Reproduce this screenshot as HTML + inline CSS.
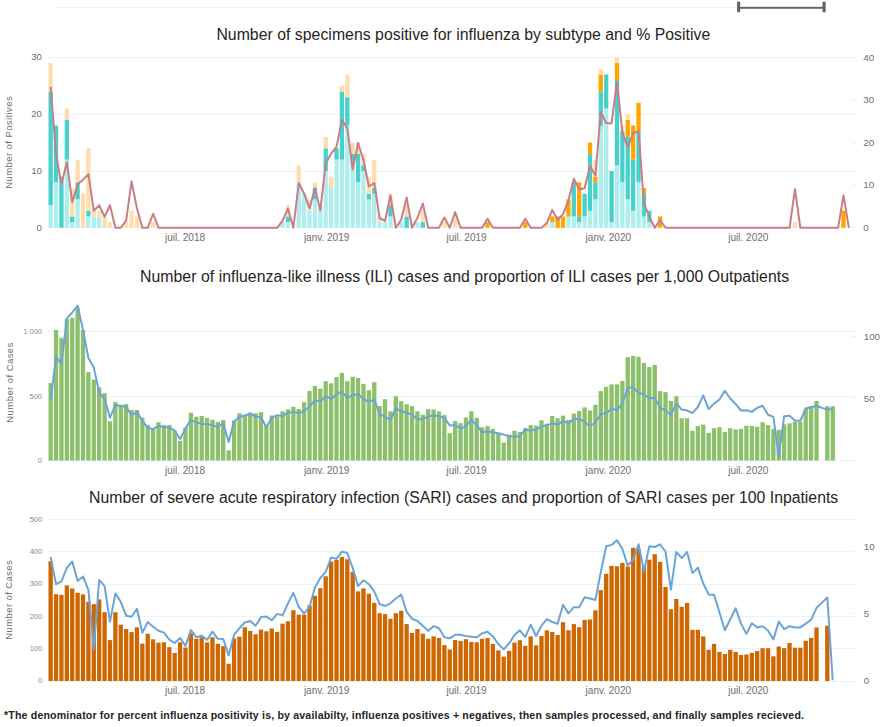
<!DOCTYPE html>
<html><head><meta charset="utf-8">
<style>
html,body{margin:0;padding:0;background:#fff;width:881px;height:727px;overflow:hidden}
svg{display:block;font-family:"Liberation Sans",sans-serif}
</style></head>
<body>
<svg width="881" height="727" viewBox="0 0 881 727">
<rect width="881" height="727" fill="#fff"/>
<rect x="48" y="57" width="808.5" height="1" fill="#F1F1F1"/>
<rect x="48" y="114" width="808.5" height="1" fill="#F1F1F1"/>
<rect x="48" y="171" width="808.5" height="1" fill="#F1F1F1"/>
<rect x="48" y="227" width="808.5" height="1" fill="#F1F1F1"/>
<rect x="852" y="99" width="4.5" height="1" fill="#F1F1F1"/>
<rect x="852" y="142" width="4.5" height="1" fill="#F1F1F1"/>
<rect x="852" y="185" width="4.5" height="1" fill="#F1F1F1"/>
<rect x="48.5" y="205.08" width="4.3" height="22.72" fill="#AFEEEE"/>
<rect x="48.5" y="91.48" width="4.3" height="113.6" fill="#48D1CC"/>
<rect x="48.5" y="63.08" width="4.3" height="28.4" fill="#FFDEAD"/>
<rect x="53.89" y="182.36" width="4.3" height="45.44" fill="#AFEEEE"/>
<rect x="53.89" y="125.56" width="4.3" height="56.8" fill="#48D1CC"/>
<rect x="59.29" y="176.68" width="4.3" height="51.12" fill="#48D1CC"/>
<rect x="64.68" y="159.64" width="4.3" height="68.16" fill="#AFEEEE"/>
<rect x="64.68" y="119.88" width="4.3" height="39.76" fill="#48D1CC"/>
<rect x="64.68" y="108.52" width="4.3" height="11.36" fill="#FFDEAD"/>
<rect x="70.07" y="222.12" width="4.3" height="5.68" fill="#AFEEEE"/>
<rect x="70.07" y="216.44" width="4.3" height="5.68" fill="#48D1CC"/>
<rect x="70.07" y="188.04" width="4.3" height="28.4" fill="#FFDEAD"/>
<rect x="75.47" y="199.4" width="4.3" height="28.4" fill="#AFEEEE"/>
<rect x="75.47" y="182.36" width="4.3" height="17.04" fill="#48D1CC"/>
<rect x="75.47" y="159.64" width="4.3" height="22.72" fill="#FFDEAD"/>
<rect x="80.86" y="193.72" width="4.3" height="34.08" fill="#FFDEAD"/>
<rect x="86.25" y="216.44" width="4.3" height="11.36" fill="#AFEEEE"/>
<rect x="86.25" y="210.76" width="4.3" height="5.68" fill="#48D1CC"/>
<rect x="86.25" y="148.28" width="4.3" height="62.48" fill="#FFDEAD"/>
<rect x="91.65" y="216.44" width="4.3" height="11.36" fill="#AFEEEE"/>
<rect x="91.65" y="210.76" width="4.3" height="5.68" fill="#FFDEAD"/>
<rect x="97.04" y="216.44" width="4.3" height="11.36" fill="#AFEEEE"/>
<rect x="97.04" y="210.76" width="4.3" height="5.68" fill="#FFDEAD"/>
<rect x="102.44" y="216.44" width="4.3" height="11.36" fill="#FFDEAD"/>
<rect x="107.83" y="222.12" width="4.3" height="5.68" fill="#FFDEAD"/>
<rect x="124.01" y="222.12" width="4.3" height="5.68" fill="#FFDEAD"/>
<rect x="129.4" y="210.76" width="4.3" height="17.04" fill="#FFDEAD"/>
<rect x="134.8" y="216.44" width="4.3" height="11.36" fill="#FFDEAD"/>
<rect x="150.98" y="222.12" width="4.3" height="5.68" fill="#FFDEAD"/>
<rect x="280.42" y="222.12" width="4.3" height="5.68" fill="#AFEEEE"/>
<rect x="285.81" y="222.12" width="4.3" height="5.68" fill="#AFEEEE"/>
<rect x="285.81" y="216.44" width="4.3" height="5.68" fill="#48D1CC"/>
<rect x="285.81" y="205.08" width="4.3" height="11.36" fill="#FFDEAD"/>
<rect x="296.6" y="182.36" width="4.3" height="45.44" fill="#AFEEEE"/>
<rect x="296.6" y="165.32" width="4.3" height="17.04" fill="#FFDEAD"/>
<rect x="301.99" y="193.72" width="4.3" height="34.08" fill="#AFEEEE"/>
<rect x="307.39" y="210.76" width="4.3" height="17.04" fill="#AFEEEE"/>
<rect x="307.39" y="199.4" width="4.3" height="11.36" fill="#FFDEAD"/>
<rect x="312.78" y="199.4" width="4.3" height="28.4" fill="#AFEEEE"/>
<rect x="312.78" y="188.04" width="4.3" height="11.36" fill="#48D1CC"/>
<rect x="312.78" y="182.36" width="4.3" height="5.68" fill="#FFDEAD"/>
<rect x="318.18" y="205.08" width="4.3" height="22.72" fill="#AFEEEE"/>
<rect x="323.57" y="171" width="4.3" height="56.8" fill="#AFEEEE"/>
<rect x="323.57" y="148.28" width="4.3" height="22.72" fill="#48D1CC"/>
<rect x="323.57" y="136.92" width="4.3" height="11.36" fill="#FFDEAD"/>
<rect x="328.96" y="188.04" width="4.3" height="39.76" fill="#AFEEEE"/>
<rect x="328.96" y="176.68" width="4.3" height="11.36" fill="#FFDEAD"/>
<rect x="334.36" y="159.64" width="4.3" height="68.16" fill="#AFEEEE"/>
<rect x="334.36" y="148.28" width="4.3" height="11.36" fill="#48D1CC"/>
<rect x="339.75" y="159.64" width="4.3" height="68.16" fill="#AFEEEE"/>
<rect x="339.75" y="91.48" width="4.3" height="68.16" fill="#48D1CC"/>
<rect x="339.75" y="85.8" width="4.3" height="5.68" fill="#FFDEAD"/>
<rect x="345.14" y="125.56" width="4.3" height="102.24" fill="#AFEEEE"/>
<rect x="345.14" y="97.16" width="4.3" height="28.4" fill="#48D1CC"/>
<rect x="345.14" y="74.44" width="4.3" height="22.72" fill="#FFDEAD"/>
<rect x="350.54" y="165.32" width="4.3" height="62.48" fill="#AFEEEE"/>
<rect x="350.54" y="153.96" width="4.3" height="11.36" fill="#48D1CC"/>
<rect x="350.54" y="142.6" width="4.3" height="11.36" fill="#FFDEAD"/>
<rect x="355.93" y="182.36" width="4.3" height="45.44" fill="#AFEEEE"/>
<rect x="355.93" y="153.96" width="4.3" height="28.4" fill="#48D1CC"/>
<rect x="355.93" y="142.6" width="4.3" height="11.36" fill="#FFDEAD"/>
<rect x="361.32" y="171" width="4.3" height="56.8" fill="#AFEEEE"/>
<rect x="361.32" y="165.32" width="4.3" height="5.68" fill="#48D1CC"/>
<rect x="361.32" y="153.96" width="4.3" height="11.36" fill="#FFDEAD"/>
<rect x="366.72" y="199.4" width="4.3" height="28.4" fill="#AFEEEE"/>
<rect x="366.72" y="193.72" width="4.3" height="5.68" fill="#48D1CC"/>
<rect x="366.72" y="176.68" width="4.3" height="17.04" fill="#FFDEAD"/>
<rect x="372.11" y="193.72" width="4.3" height="34.08" fill="#AFEEEE"/>
<rect x="372.11" y="188.04" width="4.3" height="5.68" fill="#48D1CC"/>
<rect x="372.11" y="159.64" width="4.3" height="28.4" fill="#FFDEAD"/>
<rect x="377.5" y="222.12" width="4.3" height="5.68" fill="#AFEEEE"/>
<rect x="377.5" y="216.44" width="4.3" height="5.68" fill="#FFDEAD"/>
<rect x="382.9" y="222.12" width="4.3" height="5.68" fill="#AFEEEE"/>
<rect x="388.29" y="216.44" width="4.3" height="11.36" fill="#AFEEEE"/>
<rect x="388.29" y="205.08" width="4.3" height="11.36" fill="#48D1CC"/>
<rect x="388.29" y="193.72" width="4.3" height="11.36" fill="#FFDEAD"/>
<rect x="399.08" y="222.12" width="4.3" height="5.68" fill="#AFEEEE"/>
<rect x="404.47" y="216.44" width="4.3" height="11.36" fill="#48D1CC"/>
<rect x="404.47" y="205.08" width="4.3" height="11.36" fill="#FFDEAD"/>
<rect x="415.26" y="222.12" width="4.3" height="5.68" fill="#AFEEEE"/>
<rect x="420.65" y="222.12" width="4.3" height="5.68" fill="#48D1CC"/>
<rect x="420.65" y="210.76" width="4.3" height="11.36" fill="#FFDEAD"/>
<rect x="442.23" y="222.12" width="4.3" height="5.68" fill="#FFDEAD"/>
<rect x="453.01" y="216.44" width="4.3" height="11.36" fill="#FFDEAD"/>
<rect x="485.37" y="222.12" width="4.3" height="5.68" fill="#FFA500"/>
<rect x="523.13" y="222.12" width="4.3" height="5.68" fill="#FFA500"/>
<rect x="544.7" y="222.12" width="4.3" height="5.68" fill="#FFDEAD"/>
<rect x="550.1" y="222.12" width="4.3" height="5.68" fill="#AFEEEE"/>
<rect x="550.1" y="216.44" width="4.3" height="5.68" fill="#FFA500"/>
<rect x="555.49" y="216.44" width="4.3" height="11.36" fill="#FFA500"/>
<rect x="560.88" y="216.44" width="4.3" height="11.36" fill="#FFA500"/>
<rect x="566.28" y="216.44" width="4.3" height="11.36" fill="#AFEEEE"/>
<rect x="566.28" y="199.4" width="4.3" height="17.04" fill="#FFA500"/>
<rect x="571.67" y="216.44" width="4.3" height="11.36" fill="#AFEEEE"/>
<rect x="571.67" y="182.36" width="4.3" height="34.08" fill="#48D1CC"/>
<rect x="577.06" y="222.12" width="4.3" height="5.68" fill="#AFEEEE"/>
<rect x="577.06" y="216.44" width="4.3" height="5.68" fill="#48D1CC"/>
<rect x="577.06" y="182.36" width="4.3" height="34.08" fill="#FFA500"/>
<rect x="582.46" y="216.44" width="4.3" height="11.36" fill="#AFEEEE"/>
<rect x="582.46" y="193.72" width="4.3" height="22.72" fill="#48D1CC"/>
<rect x="587.85" y="210.76" width="4.3" height="17.04" fill="#AFEEEE"/>
<rect x="587.85" y="153.96" width="4.3" height="56.8" fill="#48D1CC"/>
<rect x="587.85" y="142.6" width="4.3" height="11.36" fill="#FFA500"/>
<rect x="593.24" y="199.4" width="4.3" height="28.4" fill="#AFEEEE"/>
<rect x="593.24" y="182.36" width="4.3" height="17.04" fill="#48D1CC"/>
<rect x="593.24" y="176.68" width="4.3" height="5.68" fill="#FFA500"/>
<rect x="593.24" y="159.64" width="4.3" height="17.04" fill="#FFDEAD"/>
<rect x="598.64" y="125.56" width="4.3" height="102.24" fill="#AFEEEE"/>
<rect x="598.64" y="91.48" width="4.3" height="34.08" fill="#48D1CC"/>
<rect x="598.64" y="74.44" width="4.3" height="17.04" fill="#FFA500"/>
<rect x="598.64" y="68.76" width="4.3" height="5.68" fill="#FFDEAD"/>
<rect x="604.03" y="108.52" width="4.3" height="119.28" fill="#AFEEEE"/>
<rect x="604.03" y="74.44" width="4.3" height="34.08" fill="#48D1CC"/>
<rect x="609.42" y="222.12" width="4.3" height="5.68" fill="#AFEEEE"/>
<rect x="609.42" y="171" width="4.3" height="51.12" fill="#48D1CC"/>
<rect x="614.82" y="165.32" width="4.3" height="62.48" fill="#AFEEEE"/>
<rect x="614.82" y="80.12" width="4.3" height="85.2" fill="#48D1CC"/>
<rect x="614.82" y="63.08" width="4.3" height="17.04" fill="#FFA500"/>
<rect x="614.82" y="57.4" width="4.3" height="5.68" fill="#FFDEAD"/>
<rect x="620.21" y="182.36" width="4.3" height="45.44" fill="#AFEEEE"/>
<rect x="620.21" y="131.24" width="4.3" height="51.12" fill="#48D1CC"/>
<rect x="620.21" y="125.56" width="4.3" height="5.68" fill="#FFDEAD"/>
<rect x="625.6" y="199.4" width="4.3" height="28.4" fill="#AFEEEE"/>
<rect x="625.6" y="136.92" width="4.3" height="62.48" fill="#48D1CC"/>
<rect x="625.6" y="119.88" width="4.3" height="17.04" fill="#FFA500"/>
<rect x="625.6" y="114.2" width="4.3" height="5.68" fill="#FFDEAD"/>
<rect x="631" y="210.76" width="4.3" height="17.04" fill="#AFEEEE"/>
<rect x="631" y="159.64" width="4.3" height="51.12" fill="#48D1CC"/>
<rect x="631" y="125.56" width="4.3" height="34.08" fill="#FFA500"/>
<rect x="636.39" y="182.36" width="4.3" height="45.44" fill="#AFEEEE"/>
<rect x="636.39" y="131.24" width="4.3" height="51.12" fill="#48D1CC"/>
<rect x="636.39" y="102.84" width="4.3" height="28.4" fill="#FFA500"/>
<rect x="641.79" y="216.44" width="4.3" height="11.36" fill="#AFEEEE"/>
<rect x="641.79" y="193.72" width="4.3" height="22.72" fill="#48D1CC"/>
<rect x="641.79" y="188.04" width="4.3" height="5.68" fill="#FFA500"/>
<rect x="647.18" y="222.12" width="4.3" height="5.68" fill="#AFEEEE"/>
<rect x="647.18" y="210.76" width="4.3" height="11.36" fill="#48D1CC"/>
<rect x="657.97" y="216.44" width="4.3" height="11.36" fill="#FFA500"/>
<rect x="792.8" y="222.12" width="4.3" height="5.68" fill="#FFDEAD"/>
<rect x="841.34" y="210.76" width="4.3" height="17.04" fill="#FFA500"/>
<polyline points="50.65,86.79 56.04,154.95 61.44,183.92 66.83,162.2 72.22,202.24 77.62,184.35 83.01,179.66 88.4,174.12 93.8,210.76 99.19,205.22 104.59,216.72 109.98,205.22 115.37,227.8 120.77,227.8 126.16,220.56 131.55,181.37 136.95,208.2 142.34,227.8 147.73,227.8 153.13,213.74 158.52,227.8 163.91,227.8 169.31,227.8 174.7,227.8 180.09,227.8 185.49,227.8 190.88,227.8 196.27,227.8 201.67,227.8 207.06,227.8 212.46,227.8 217.85,227.8 223.24,227.8 228.64,227.8 234.03,227.8 239.42,227.8 244.82,227.8 250.21,227.8 255.6,227.8 261,227.8 266.39,227.8 271.78,227.8 277.18,227.8 282.57,220.56 287.96,208.63 293.36,227.8 298.75,183.07 304.14,193.72 309.54,208.2 314.93,188.18 320.32,210.33 325.72,163.47 331.11,153.68 336.51,146.86 341.9,120.02 347.29,128.12 352.69,169.44 358.08,143.03 363.47,160.07 368.87,186.48 374.26,183.07 379.65,218 385.05,220.98 390.44,195.42 395.83,227.8 401.23,219.71 406.62,197.55 412.01,227.8 417.41,218 422.8,203.52 428.19,227.8 433.59,227.8 438.98,227.8 444.38,217.58 449.77,227.8 455.16,212.04 460.56,227.8 465.95,227.8 471.34,227.8 476.74,227.8 482.13,227.8 487.52,218.85 492.92,227.8 498.31,227.8 503.7,227.8 509.1,227.8 514.49,227.8 519.88,227.8 525.28,218.85 530.67,227.8 536.06,227.8 541.46,227.8 546.85,223.11 552.25,209.91 557.64,219.71 563.03,214.17 568.43,200.54 573.82,178.81 579.21,189.46 584.61,188.18 590,166.03 595.39,175.4 600.79,111.93 606.18,123 611.57,123.43 616.97,81.68 622.36,132.38 627.75,147.29 633.15,133.23 638.54,131.1 643.94,203.52 649.33,216.72 654.72,227.8 660.12,220.13 665.51,227.8 670.9,227.8 676.3,227.8 681.69,227.8 687.08,227.8 692.48,227.8 697.87,227.8 703.26,227.8 708.66,227.8 714.05,227.8 719.44,227.8 724.84,227.8 730.23,227.8 735.62,227.8 741.02,227.8 746.41,227.8 751.81,227.8 757.2,227.8 762.59,227.8 767.99,227.8 773.38,227.8 778.77,227.8 784.17,227.8 789.56,227.8 794.95,189.16 800.35,227.8 805.74,227.8 811.13,227.8 816.53,227.8 821.92,227.8 827.31,227.8 832.71,227.8 838.1,227.8 843.49,195.42 848.89,227.8" fill="none" stroke="#C97D86" stroke-width="2.0" stroke-linejoin="round"/>
<rect x="48" y="331" width="808.5" height="1" fill="#F1F1F1"/>
<rect x="48" y="396" width="808.5" height="1" fill="#F1F1F1"/>
<rect x="48" y="460" width="808.5" height="1" fill="#F1F1F1"/>
<rect x="852" y="336" width="4.5" height="1" fill="#F1F1F1"/>
<rect x="852" y="398" width="4.5" height="1" fill="#F1F1F1"/>
<rect x="48.5" y="383.1" width="4.3" height="77.5" fill="#8DC06A"/>
<rect x="53.89" y="330" width="4.3" height="130.6" fill="#8DC06A"/>
<rect x="59.29" y="337.8" width="4.3" height="122.8" fill="#8DC06A"/>
<rect x="64.68" y="319.1" width="4.3" height="141.5" fill="#8DC06A"/>
<rect x="70.07" y="317.9" width="4.3" height="142.7" fill="#8DC06A"/>
<rect x="75.47" y="307.9" width="4.3" height="152.7" fill="#8DC06A"/>
<rect x="80.86" y="330" width="4.3" height="130.6" fill="#8DC06A"/>
<rect x="86.25" y="372.1" width="4.3" height="88.5" fill="#8DC06A"/>
<rect x="91.65" y="379.6" width="4.3" height="81" fill="#8DC06A"/>
<rect x="97.04" y="387.3" width="4.3" height="73.3" fill="#8DC06A"/>
<rect x="102.44" y="393.1" width="4.3" height="67.5" fill="#8DC06A"/>
<rect x="107.83" y="421.2" width="4.3" height="39.4" fill="#8DC06A"/>
<rect x="113.22" y="402" width="4.3" height="58.6" fill="#8DC06A"/>
<rect x="118.62" y="404.8" width="4.3" height="55.8" fill="#8DC06A"/>
<rect x="124.01" y="404.1" width="4.3" height="56.5" fill="#8DC06A"/>
<rect x="129.4" y="410" width="4.3" height="50.6" fill="#8DC06A"/>
<rect x="134.8" y="410" width="4.3" height="50.6" fill="#8DC06A"/>
<rect x="140.19" y="417.7" width="4.3" height="42.9" fill="#8DC06A"/>
<rect x="145.58" y="424.9" width="4.3" height="35.7" fill="#8DC06A"/>
<rect x="150.98" y="429.2" width="4.3" height="31.4" fill="#8DC06A"/>
<rect x="156.37" y="422.3" width="4.3" height="38.3" fill="#8DC06A"/>
<rect x="161.76" y="424.9" width="4.3" height="35.7" fill="#8DC06A"/>
<rect x="167.16" y="424.9" width="4.3" height="35.7" fill="#8DC06A"/>
<rect x="172.55" y="430.7" width="4.3" height="29.9" fill="#8DC06A"/>
<rect x="177.94" y="440.8" width="4.3" height="19.8" fill="#8DC06A"/>
<rect x="183.34" y="427.6" width="4.3" height="33" fill="#8DC06A"/>
<rect x="188.73" y="412.8" width="4.3" height="47.8" fill="#8DC06A"/>
<rect x="194.12" y="416.7" width="4.3" height="43.9" fill="#8DC06A"/>
<rect x="199.52" y="416" width="4.3" height="44.6" fill="#8DC06A"/>
<rect x="204.91" y="418" width="4.3" height="42.6" fill="#8DC06A"/>
<rect x="210.31" y="419.8" width="4.3" height="40.8" fill="#8DC06A"/>
<rect x="215.7" y="421.9" width="4.3" height="38.7" fill="#8DC06A"/>
<rect x="221.09" y="420.1" width="4.3" height="40.5" fill="#8DC06A"/>
<rect x="226.49" y="450.3" width="4.3" height="10.3" fill="#8DC06A"/>
<rect x="231.88" y="420.4" width="4.3" height="40.2" fill="#8DC06A"/>
<rect x="237.27" y="413.3" width="4.3" height="47.3" fill="#8DC06A"/>
<rect x="242.67" y="414.8" width="4.3" height="45.8" fill="#8DC06A"/>
<rect x="248.06" y="412.5" width="4.3" height="48.1" fill="#8DC06A"/>
<rect x="253.45" y="413.3" width="4.3" height="47.3" fill="#8DC06A"/>
<rect x="258.85" y="412.2" width="4.3" height="48.4" fill="#8DC06A"/>
<rect x="264.24" y="426.1" width="4.3" height="34.5" fill="#8DC06A"/>
<rect x="269.63" y="415.5" width="4.3" height="45.1" fill="#8DC06A"/>
<rect x="275.03" y="416.3" width="4.3" height="44.3" fill="#8DC06A"/>
<rect x="280.42" y="411.3" width="4.3" height="49.3" fill="#8DC06A"/>
<rect x="285.81" y="409.2" width="4.3" height="51.4" fill="#8DC06A"/>
<rect x="291.21" y="406.9" width="4.3" height="53.7" fill="#8DC06A"/>
<rect x="296.6" y="409" width="4.3" height="51.6" fill="#8DC06A"/>
<rect x="301.99" y="402.2" width="4.3" height="58.4" fill="#8DC06A"/>
<rect x="307.39" y="391" width="4.3" height="69.6" fill="#8DC06A"/>
<rect x="312.78" y="386" width="4.3" height="74.6" fill="#8DC06A"/>
<rect x="318.18" y="388.6" width="4.3" height="72" fill="#8DC06A"/>
<rect x="323.57" y="381.2" width="4.3" height="79.4" fill="#8DC06A"/>
<rect x="328.96" y="383.3" width="4.3" height="77.3" fill="#8DC06A"/>
<rect x="334.36" y="377.1" width="4.3" height="83.5" fill="#8DC06A"/>
<rect x="339.75" y="372.9" width="4.3" height="87.7" fill="#8DC06A"/>
<rect x="345.14" y="381.2" width="4.3" height="79.4" fill="#8DC06A"/>
<rect x="350.54" y="376.9" width="4.3" height="83.7" fill="#8DC06A"/>
<rect x="355.93" y="378" width="4.3" height="82.6" fill="#8DC06A"/>
<rect x="361.32" y="383.8" width="4.3" height="76.8" fill="#8DC06A"/>
<rect x="366.72" y="390.1" width="4.3" height="70.5" fill="#8DC06A"/>
<rect x="372.11" y="382.2" width="4.3" height="78.4" fill="#8DC06A"/>
<rect x="377.5" y="406" width="4.3" height="54.6" fill="#8DC06A"/>
<rect x="382.9" y="399.2" width="4.3" height="61.4" fill="#8DC06A"/>
<rect x="388.29" y="411.3" width="4.3" height="49.3" fill="#8DC06A"/>
<rect x="393.68" y="396.2" width="4.3" height="64.4" fill="#8DC06A"/>
<rect x="399.08" y="401.2" width="4.3" height="59.4" fill="#8DC06A"/>
<rect x="404.47" y="404.2" width="4.3" height="56.4" fill="#8DC06A"/>
<rect x="409.86" y="406.1" width="4.3" height="54.5" fill="#8DC06A"/>
<rect x="415.26" y="411.3" width="4.3" height="49.3" fill="#8DC06A"/>
<rect x="420.65" y="414.8" width="4.3" height="45.8" fill="#8DC06A"/>
<rect x="426.05" y="409.2" width="4.3" height="51.4" fill="#8DC06A"/>
<rect x="431.44" y="409.5" width="4.3" height="51.1" fill="#8DC06A"/>
<rect x="436.83" y="411.3" width="4.3" height="49.3" fill="#8DC06A"/>
<rect x="442.23" y="415.1" width="4.3" height="45.5" fill="#8DC06A"/>
<rect x="447.62" y="433.2" width="4.3" height="27.4" fill="#8DC06A"/>
<rect x="453.01" y="421.1" width="4.3" height="39.5" fill="#8DC06A"/>
<rect x="458.41" y="423.1" width="4.3" height="37.5" fill="#8DC06A"/>
<rect x="463.8" y="417.5" width="4.3" height="43.1" fill="#8DC06A"/>
<rect x="469.19" y="411.3" width="4.3" height="49.3" fill="#8DC06A"/>
<rect x="474.59" y="417.8" width="4.3" height="42.8" fill="#8DC06A"/>
<rect x="479.98" y="427.3" width="4.3" height="33.3" fill="#8DC06A"/>
<rect x="485.37" y="426.1" width="4.3" height="34.5" fill="#8DC06A"/>
<rect x="490.77" y="428.9" width="4.3" height="31.7" fill="#8DC06A"/>
<rect x="496.16" y="432.8" width="4.3" height="27.8" fill="#8DC06A"/>
<rect x="501.55" y="442.6" width="4.3" height="18" fill="#8DC06A"/>
<rect x="506.95" y="434.6" width="4.3" height="26" fill="#8DC06A"/>
<rect x="512.34" y="430.8" width="4.3" height="29.8" fill="#8DC06A"/>
<rect x="517.73" y="432" width="4.3" height="28.6" fill="#8DC06A"/>
<rect x="523.13" y="428" width="4.3" height="32.6" fill="#8DC06A"/>
<rect x="528.52" y="425.1" width="4.3" height="35.5" fill="#8DC06A"/>
<rect x="533.91" y="425.6" width="4.3" height="35" fill="#8DC06A"/>
<rect x="539.31" y="420.3" width="4.3" height="40.3" fill="#8DC06A"/>
<rect x="544.7" y="423.7" width="4.3" height="36.9" fill="#8DC06A"/>
<rect x="550.1" y="416" width="4.3" height="44.6" fill="#8DC06A"/>
<rect x="555.49" y="418.2" width="4.3" height="42.4" fill="#8DC06A"/>
<rect x="560.88" y="415.6" width="4.3" height="45" fill="#8DC06A"/>
<rect x="566.28" y="419.9" width="4.3" height="40.7" fill="#8DC06A"/>
<rect x="571.67" y="413.6" width="4.3" height="47" fill="#8DC06A"/>
<rect x="577.06" y="411" width="4.3" height="49.6" fill="#8DC06A"/>
<rect x="582.46" y="407.4" width="4.3" height="53.2" fill="#8DC06A"/>
<rect x="587.85" y="410.5" width="4.3" height="50.1" fill="#8DC06A"/>
<rect x="593.24" y="404.8" width="4.3" height="55.8" fill="#8DC06A"/>
<rect x="598.64" y="391.1" width="4.3" height="69.5" fill="#8DC06A"/>
<rect x="604.03" y="386.8" width="4.3" height="73.8" fill="#8DC06A"/>
<rect x="609.42" y="384.4" width="4.3" height="76.2" fill="#8DC06A"/>
<rect x="614.82" y="384.4" width="4.3" height="76.2" fill="#8DC06A"/>
<rect x="620.21" y="380.9" width="4.3" height="79.7" fill="#8DC06A"/>
<rect x="625.6" y="357.2" width="4.3" height="103.4" fill="#8DC06A"/>
<rect x="631" y="356" width="4.3" height="104.6" fill="#8DC06A"/>
<rect x="636.39" y="356.8" width="4.3" height="103.8" fill="#8DC06A"/>
<rect x="641.79" y="362.9" width="4.3" height="97.7" fill="#8DC06A"/>
<rect x="647.18" y="367" width="4.3" height="93.6" fill="#8DC06A"/>
<rect x="652.57" y="364.9" width="4.3" height="95.7" fill="#8DC06A"/>
<rect x="657.97" y="391.1" width="4.3" height="69.5" fill="#8DC06A"/>
<rect x="663.36" y="392.1" width="4.3" height="68.5" fill="#8DC06A"/>
<rect x="668.75" y="401" width="4.3" height="59.6" fill="#8DC06A"/>
<rect x="674.15" y="396.2" width="4.3" height="64.4" fill="#8DC06A"/>
<rect x="679.54" y="418.2" width="4.3" height="42.4" fill="#8DC06A"/>
<rect x="684.93" y="418.2" width="4.3" height="42.4" fill="#8DC06A"/>
<rect x="690.33" y="430.8" width="4.3" height="29.8" fill="#8DC06A"/>
<rect x="695.72" y="426" width="4.3" height="34.6" fill="#8DC06A"/>
<rect x="701.11" y="424.6" width="4.3" height="36" fill="#8DC06A"/>
<rect x="706.51" y="432.8" width="4.3" height="27.8" fill="#8DC06A"/>
<rect x="711.9" y="428.2" width="4.3" height="32.4" fill="#8DC06A"/>
<rect x="717.29" y="427.2" width="4.3" height="33.4" fill="#8DC06A"/>
<rect x="722.69" y="432" width="4.3" height="28.6" fill="#8DC06A"/>
<rect x="728.08" y="428.2" width="4.3" height="32.4" fill="#8DC06A"/>
<rect x="733.47" y="429.4" width="4.3" height="31.2" fill="#8DC06A"/>
<rect x="738.87" y="428.9" width="4.3" height="31.7" fill="#8DC06A"/>
<rect x="744.26" y="425.6" width="4.3" height="35" fill="#8DC06A"/>
<rect x="749.66" y="426" width="4.3" height="34.6" fill="#8DC06A"/>
<rect x="755.05" y="426.8" width="4.3" height="33.8" fill="#8DC06A"/>
<rect x="760.44" y="422.2" width="4.3" height="38.4" fill="#8DC06A"/>
<rect x="765.84" y="425.1" width="4.3" height="35.5" fill="#8DC06A"/>
<rect x="771.23" y="429.1" width="4.3" height="31.5" fill="#8DC06A"/>
<rect x="776.62" y="429.8" width="4.3" height="30.8" fill="#8DC06A"/>
<rect x="782.02" y="424.3" width="4.3" height="36.3" fill="#8DC06A"/>
<rect x="787.41" y="423.4" width="4.3" height="37.2" fill="#8DC06A"/>
<rect x="792.8" y="422" width="4.3" height="38.6" fill="#8DC06A"/>
<rect x="798.2" y="422" width="4.3" height="38.6" fill="#8DC06A"/>
<rect x="803.59" y="408.8" width="4.3" height="51.8" fill="#8DC06A"/>
<rect x="808.98" y="405.9" width="4.3" height="54.7" fill="#8DC06A"/>
<rect x="814.38" y="401" width="4.3" height="59.6" fill="#8DC06A"/>
<rect x="825.16" y="406.2" width="4.3" height="54.4" fill="#8DC06A"/>
<rect x="830.56" y="406.2" width="4.3" height="54.4" fill="#8DC06A"/>
<polyline points="50.65,400.1 56.04,356.9 61.44,363.9 66.83,318.4 72.22,312.5 77.62,305.5 83.01,330 88.4,358.1 93.8,367.4 99.19,392.7 104.59,399 109.98,417.7 115.37,404.8 120.77,406 126.16,406.7 131.55,415.3 136.95,411.8 142.34,421 147.73,427.6 153.13,429.2 158.52,425.8 163.91,427.6 169.31,427.3 174.7,430.7 180.09,439 185.49,428.4 190.88,420.1 196.27,422.3 201.67,423.9 207.06,423.9 212.46,425.4 217.85,426.9 223.24,423.4 228.64,442 234.03,421.6 239.42,417 244.82,415.5 250.21,413.7 255.6,416.5 261,417.2 266.39,427.3 271.78,417.8 277.18,415.2 282.57,416 287.96,412.8 293.36,411.9 298.75,413.3 304.14,411 309.54,406.5 314.93,400.1 320.32,401.6 325.72,396.2 331.11,399.2 336.51,394.3 341.9,391.6 347.29,398.1 352.69,395.1 358.08,394.3 363.47,398.9 368.87,402.2 374.26,399.3 379.65,414.3 385.05,416.7 390.44,420.1 395.83,408.3 401.23,411.3 406.62,412.8 412.01,414.8 417.41,419.3 422.8,419.3 428.19,416.3 433.59,415.5 438.98,416.3 444.38,417.8 449.77,425.4 455.16,424.9 460.56,428.8 465.95,426.1 471.34,419.8 476.74,425.4 482.13,432.2 487.52,431.4 492.92,432.3 498.31,433.3 503.7,434.6 509.1,436.3 514.49,436.8 519.88,435.9 525.28,429.7 530.67,430.6 536.06,429.7 541.46,426.8 546.85,425.1 552.25,423.4 557.64,424.6 563.03,420.8 568.43,423.4 573.82,419.1 579.21,418.7 584.61,422.2 590,426 595.39,422.5 600.79,414.1 606.18,413.1 611.57,408.8 616.97,410.1 622.36,403.6 627.75,388.1 633.15,387.3 638.54,393 643.94,394.2 649.33,398.4 654.72,397.6 660.12,407.9 665.51,410.5 670.9,415.1 676.3,403.3 681.69,409.6 687.08,410.5 692.48,413.1 697.87,407 703.26,395.4 708.66,409.1 714.05,403.6 719.44,399.5 724.84,390.7 730.23,398.5 735.62,404 741.02,410.5 746.41,410.2 751.81,411.9 757.2,407.9 762.59,405.7 767.99,414.8 773.38,416.9 778.77,456.9 784.17,416.2 789.56,415.7 794.95,420.8 800.35,420.8 805.74,408.3 811.13,407.6 816.53,405.7 821.92,407.9 827.31,409.6 832.71,409.1" fill="none" stroke="#6CA4D8" stroke-width="2.0" stroke-linejoin="round"/>
<rect x="48" y="519" width="808.5" height="1" fill="#F1F1F1"/>
<rect x="48" y="551" width="808.5" height="1" fill="#F1F1F1"/>
<rect x="48" y="584" width="808.5" height="1" fill="#F1F1F1"/>
<rect x="48" y="616" width="808.5" height="1" fill="#F1F1F1"/>
<rect x="48" y="648" width="808.5" height="1" fill="#F1F1F1"/>
<rect x="48" y="681" width="808.5" height="1" fill="#F1F1F1"/>
<rect x="852" y="546" width="4.5" height="1" fill="#F1F1F1"/>
<rect x="852" y="613" width="4.5" height="1" fill="#F1F1F1"/>
<rect x="48.5" y="561.3" width="4.3" height="119.7" fill="#CE6602"/>
<rect x="53.89" y="594.2" width="4.3" height="86.8" fill="#CE6602"/>
<rect x="59.29" y="594.8" width="4.3" height="86.2" fill="#CE6602"/>
<rect x="64.68" y="585.4" width="4.3" height="95.6" fill="#CE6602"/>
<rect x="70.07" y="588.4" width="4.3" height="92.6" fill="#CE6602"/>
<rect x="75.47" y="592.8" width="4.3" height="88.2" fill="#CE6602"/>
<rect x="80.86" y="594.4" width="4.3" height="86.6" fill="#CE6602"/>
<rect x="86.25" y="601.8" width="4.3" height="79.2" fill="#CE6602"/>
<rect x="91.65" y="604.2" width="4.3" height="76.8" fill="#CE6602"/>
<rect x="97.04" y="599.4" width="4.3" height="81.6" fill="#CE6602"/>
<rect x="102.44" y="612.2" width="4.3" height="68.8" fill="#CE6602"/>
<rect x="107.83" y="640.1" width="4.3" height="40.9" fill="#CE6602"/>
<rect x="113.22" y="612.2" width="4.3" height="68.8" fill="#CE6602"/>
<rect x="118.62" y="624.7" width="4.3" height="56.3" fill="#CE6602"/>
<rect x="124.01" y="629.1" width="4.3" height="51.9" fill="#CE6602"/>
<rect x="129.4" y="632.1" width="4.3" height="48.9" fill="#CE6602"/>
<rect x="134.8" y="627.3" width="4.3" height="53.7" fill="#CE6602"/>
<rect x="140.19" y="643.6" width="4.3" height="37.4" fill="#CE6602"/>
<rect x="145.58" y="633.7" width="4.3" height="47.3" fill="#CE6602"/>
<rect x="150.98" y="639.3" width="4.3" height="41.7" fill="#CE6602"/>
<rect x="156.37" y="642.7" width="4.3" height="38.3" fill="#CE6602"/>
<rect x="161.76" y="642.3" width="4.3" height="38.7" fill="#CE6602"/>
<rect x="167.16" y="647.2" width="4.3" height="33.8" fill="#CE6602"/>
<rect x="172.55" y="653" width="4.3" height="28" fill="#CE6602"/>
<rect x="177.94" y="642.3" width="4.3" height="38.7" fill="#CE6602"/>
<rect x="183.34" y="647.5" width="4.3" height="33.5" fill="#CE6602"/>
<rect x="188.73" y="633.2" width="4.3" height="47.8" fill="#CE6602"/>
<rect x="194.12" y="638.8" width="4.3" height="42.2" fill="#CE6602"/>
<rect x="199.52" y="637.2" width="4.3" height="43.8" fill="#CE6602"/>
<rect x="204.91" y="642.4" width="4.3" height="38.6" fill="#CE6602"/>
<rect x="210.31" y="637.2" width="4.3" height="43.8" fill="#CE6602"/>
<rect x="215.7" y="643.8" width="4.3" height="37.2" fill="#CE6602"/>
<rect x="221.09" y="646.2" width="4.3" height="34.8" fill="#CE6602"/>
<rect x="226.49" y="663.8" width="4.3" height="17.2" fill="#CE6602"/>
<rect x="231.88" y="638.5" width="4.3" height="42.5" fill="#CE6602"/>
<rect x="237.27" y="636.7" width="4.3" height="44.3" fill="#CE6602"/>
<rect x="242.67" y="627.2" width="4.3" height="53.8" fill="#CE6602"/>
<rect x="248.06" y="630.9" width="4.3" height="50.1" fill="#CE6602"/>
<rect x="253.45" y="634.3" width="4.3" height="46.7" fill="#CE6602"/>
<rect x="258.85" y="629.6" width="4.3" height="51.4" fill="#CE6602"/>
<rect x="264.24" y="631.3" width="4.3" height="49.7" fill="#CE6602"/>
<rect x="269.63" y="628.5" width="4.3" height="52.5" fill="#CE6602"/>
<rect x="275.03" y="631.9" width="4.3" height="49.1" fill="#CE6602"/>
<rect x="280.42" y="623.7" width="4.3" height="57.3" fill="#CE6602"/>
<rect x="285.81" y="621.3" width="4.3" height="59.7" fill="#CE6602"/>
<rect x="291.21" y="610.2" width="4.3" height="70.8" fill="#CE6602"/>
<rect x="296.6" y="614.7" width="4.3" height="66.3" fill="#CE6602"/>
<rect x="301.99" y="614.7" width="4.3" height="66.3" fill="#CE6602"/>
<rect x="307.39" y="605.4" width="4.3" height="75.6" fill="#CE6602"/>
<rect x="312.78" y="595.8" width="4.3" height="85.2" fill="#CE6602"/>
<rect x="318.18" y="588.2" width="4.3" height="92.8" fill="#CE6602"/>
<rect x="323.57" y="576.3" width="4.3" height="104.7" fill="#CE6602"/>
<rect x="328.96" y="561.5" width="4.3" height="119.5" fill="#CE6602"/>
<rect x="334.36" y="559.9" width="4.3" height="121.1" fill="#CE6602"/>
<rect x="339.75" y="556.9" width="4.3" height="124.1" fill="#CE6602"/>
<rect x="345.14" y="559.3" width="4.3" height="121.7" fill="#CE6602"/>
<rect x="350.54" y="571.9" width="4.3" height="109.1" fill="#CE6602"/>
<rect x="355.93" y="591.4" width="4.3" height="89.6" fill="#CE6602"/>
<rect x="361.32" y="588.4" width="4.3" height="92.6" fill="#CE6602"/>
<rect x="366.72" y="593.8" width="4.3" height="87.2" fill="#CE6602"/>
<rect x="372.11" y="602.8" width="4.3" height="78.2" fill="#CE6602"/>
<rect x="377.5" y="613.2" width="4.3" height="67.8" fill="#CE6602"/>
<rect x="382.9" y="614.1" width="4.3" height="66.9" fill="#CE6602"/>
<rect x="388.29" y="618.7" width="4.3" height="62.3" fill="#CE6602"/>
<rect x="393.68" y="613.2" width="4.3" height="67.8" fill="#CE6602"/>
<rect x="399.08" y="610.8" width="4.3" height="70.2" fill="#CE6602"/>
<rect x="404.47" y="624.1" width="4.3" height="56.9" fill="#CE6602"/>
<rect x="409.86" y="632.9" width="4.3" height="48.1" fill="#CE6602"/>
<rect x="415.26" y="629" width="4.3" height="52" fill="#CE6602"/>
<rect x="420.65" y="633.7" width="4.3" height="47.3" fill="#CE6602"/>
<rect x="426.05" y="638.8" width="4.3" height="42.2" fill="#CE6602"/>
<rect x="431.44" y="636.4" width="4.3" height="44.6" fill="#CE6602"/>
<rect x="436.83" y="638" width="4.3" height="43" fill="#CE6602"/>
<rect x="442.23" y="645.1" width="4.3" height="35.9" fill="#CE6602"/>
<rect x="447.62" y="649.5" width="4.3" height="31.5" fill="#CE6602"/>
<rect x="453.01" y="640" width="4.3" height="41" fill="#CE6602"/>
<rect x="458.41" y="641.1" width="4.3" height="39.9" fill="#CE6602"/>
<rect x="463.8" y="639.2" width="4.3" height="41.8" fill="#CE6602"/>
<rect x="469.19" y="641.9" width="4.3" height="39.1" fill="#CE6602"/>
<rect x="474.59" y="642.3" width="4.3" height="38.7" fill="#CE6602"/>
<rect x="479.98" y="638.8" width="4.3" height="42.2" fill="#CE6602"/>
<rect x="485.37" y="638" width="4.3" height="43" fill="#CE6602"/>
<rect x="490.77" y="644" width="4.3" height="37" fill="#CE6602"/>
<rect x="496.16" y="650.3" width="4.3" height="30.7" fill="#CE6602"/>
<rect x="501.55" y="656.6" width="4.3" height="24.4" fill="#CE6602"/>
<rect x="506.95" y="650.8" width="4.3" height="30.2" fill="#CE6602"/>
<rect x="512.34" y="642.6" width="4.3" height="38.4" fill="#CE6602"/>
<rect x="517.73" y="640.2" width="4.3" height="40.8" fill="#CE6602"/>
<rect x="523.13" y="645.9" width="4.3" height="35.1" fill="#CE6602"/>
<rect x="528.52" y="636.4" width="4.3" height="44.6" fill="#CE6602"/>
<rect x="533.91" y="645.3" width="4.3" height="35.7" fill="#CE6602"/>
<rect x="539.31" y="636" width="4.3" height="45" fill="#CE6602"/>
<rect x="544.7" y="630.3" width="4.3" height="50.7" fill="#CE6602"/>
<rect x="550.1" y="631.9" width="4.3" height="49.1" fill="#CE6602"/>
<rect x="555.49" y="635" width="4.3" height="46" fill="#CE6602"/>
<rect x="560.88" y="622.2" width="4.3" height="58.8" fill="#CE6602"/>
<rect x="566.28" y="630.3" width="4.3" height="50.7" fill="#CE6602"/>
<rect x="571.67" y="624.1" width="4.3" height="56.9" fill="#CE6602"/>
<rect x="577.06" y="627.2" width="4.3" height="53.8" fill="#CE6602"/>
<rect x="582.46" y="619.9" width="4.3" height="61.1" fill="#CE6602"/>
<rect x="587.85" y="619.5" width="4.3" height="61.5" fill="#CE6602"/>
<rect x="593.24" y="610.3" width="4.3" height="70.7" fill="#CE6602"/>
<rect x="598.64" y="590.1" width="4.3" height="90.9" fill="#CE6602"/>
<rect x="604.03" y="573.8" width="4.3" height="107.2" fill="#CE6602"/>
<rect x="609.42" y="565.9" width="4.3" height="115.1" fill="#CE6602"/>
<rect x="614.82" y="566.3" width="4.3" height="114.7" fill="#CE6602"/>
<rect x="620.21" y="562.8" width="4.3" height="118.2" fill="#CE6602"/>
<rect x="625.6" y="566.5" width="4.3" height="114.5" fill="#CE6602"/>
<rect x="631" y="547.8" width="4.3" height="133.2" fill="#CE6602"/>
<rect x="636.39" y="549" width="4.3" height="132" fill="#CE6602"/>
<rect x="641.79" y="565.5" width="4.3" height="115.5" fill="#CE6602"/>
<rect x="647.18" y="559.7" width="4.3" height="121.3" fill="#CE6602"/>
<rect x="652.57" y="554.2" width="4.3" height="126.8" fill="#CE6602"/>
<rect x="657.97" y="561.8" width="4.3" height="119.2" fill="#CE6602"/>
<rect x="663.36" y="587" width="4.3" height="94" fill="#CE6602"/>
<rect x="668.75" y="609.2" width="4.3" height="71.8" fill="#CE6602"/>
<rect x="674.15" y="598.9" width="4.3" height="82.1" fill="#CE6602"/>
<rect x="679.54" y="606.8" width="4.3" height="74.2" fill="#CE6602"/>
<rect x="684.93" y="603" width="4.3" height="78" fill="#CE6602"/>
<rect x="690.33" y="629.8" width="4.3" height="51.2" fill="#CE6602"/>
<rect x="695.72" y="629.8" width="4.3" height="51.2" fill="#CE6602"/>
<rect x="701.11" y="636.4" width="4.3" height="44.6" fill="#CE6602"/>
<rect x="706.51" y="649.8" width="4.3" height="31.2" fill="#CE6602"/>
<rect x="711.9" y="643.9" width="4.3" height="37.1" fill="#CE6602"/>
<rect x="717.29" y="651.9" width="4.3" height="29.1" fill="#CE6602"/>
<rect x="722.69" y="654" width="4.3" height="27" fill="#CE6602"/>
<rect x="728.08" y="649.8" width="4.3" height="31.2" fill="#CE6602"/>
<rect x="733.47" y="651.9" width="4.3" height="29.1" fill="#CE6602"/>
<rect x="738.87" y="655" width="4.3" height="26" fill="#CE6602"/>
<rect x="744.26" y="654.5" width="4.3" height="26.5" fill="#CE6602"/>
<rect x="749.66" y="652.8" width="4.3" height="28.2" fill="#CE6602"/>
<rect x="755.05" y="651.1" width="4.3" height="29.9" fill="#CE6602"/>
<rect x="760.44" y="648.2" width="4.3" height="32.8" fill="#CE6602"/>
<rect x="765.84" y="648.2" width="4.3" height="32.8" fill="#CE6602"/>
<rect x="771.23" y="656.3" width="4.3" height="24.7" fill="#CE6602"/>
<rect x="776.62" y="646.5" width="4.3" height="34.5" fill="#CE6602"/>
<rect x="782.02" y="648.2" width="4.3" height="32.8" fill="#CE6602"/>
<rect x="787.41" y="643" width="4.3" height="38" fill="#CE6602"/>
<rect x="792.8" y="647.7" width="4.3" height="33.3" fill="#CE6602"/>
<rect x="798.2" y="647.7" width="4.3" height="33.3" fill="#CE6602"/>
<rect x="803.59" y="640.8" width="4.3" height="40.2" fill="#CE6602"/>
<rect x="808.98" y="637.9" width="4.3" height="43.1" fill="#CE6602"/>
<rect x="814.38" y="627.5" width="4.3" height="53.5" fill="#CE6602"/>
<rect x="825.16" y="625.7" width="4.3" height="55.3" fill="#CE6602"/>
<polyline points="50.65,556.9 56.04,584.2 61.44,581.5 66.83,567.9 72.22,561.5 77.62,580.9 83.01,576.5 88.4,589.8 93.8,649.6 99.19,579.9 104.59,586.2 109.98,621.7 115.37,593.4 120.77,601.8 126.16,615.7 131.55,616.7 136.95,608.8 142.34,632.7 147.73,622.1 153.13,626.7 158.52,630.7 163.91,632.6 169.31,639.6 174.7,643 180.09,638 185.49,645.9 190.88,630.1 196.27,637.2 201.67,635.6 207.06,639.9 212.46,631.7 217.85,638.8 223.24,639.1 228.64,655.4 234.03,634.8 239.42,628.2 244.82,622.5 250.21,620.9 255.6,625.7 261,617.1 266.39,616.6 271.78,620.3 277.18,613.9 282.57,615.3 287.96,603.4 293.36,592.8 298.75,606.8 304.14,613.7 309.54,606.8 314.93,587.4 320.32,577.9 325.72,571.9 331.11,557.5 336.51,558.9 341.9,551.6 347.29,553 352.69,567.9 358.08,586.2 363.47,580.3 368.87,584.2 374.26,591.4 379.65,604.2 385.05,605.8 390.44,603.3 395.83,598.5 401.23,594.5 406.62,611.9 412.01,618.7 417.41,620.9 422.8,625.7 428.19,630.9 433.59,626.1 438.98,628.2 444.38,637.2 449.77,638.3 455.16,634.8 460.56,634.8 465.95,636.1 471.34,636.7 476.74,637.2 482.13,633.2 487.52,631.7 492.92,636.4 498.31,644 503.7,649.4 509.1,643.5 514.49,635 519.88,630.3 525.28,637.1 530.67,624.7 536.06,636 541.46,625.7 546.85,619.1 552.25,622 557.64,623.7 563.03,604.7 568.43,613.4 573.82,607.2 579.21,607.2 584.61,597.3 590,598.5 595.39,600 600.79,572.1 606.18,546.3 611.57,544.9 616.97,540.2 622.36,548.9 627.75,565.5 633.15,559.7 638.54,544.3 643.94,571.1 649.33,546.3 654.72,547 660.12,544.3 665.51,551.5 670.9,589.6 676.3,551.9 681.69,558.1 687.08,551.9 692.48,573.1 697.87,567.6 703.26,583.5 708.66,594.4 714.05,594.8 719.44,612.3 724.84,630.3 730.23,619.5 735.62,608.2 741.02,623.65 746.41,633.9 751.81,623.3 757.2,627.4 762.59,626.2 767.99,630.5 773.38,639.4 778.77,621.5 784.17,629.1 789.56,626.2 794.95,627.4 800.35,627.4 805.74,623.6 811.13,619.8 816.53,607.8 821.92,602.6 827.31,597.5 832.71,680.3" fill="none" stroke="#6CA4D8" stroke-width="2.0" stroke-linejoin="round"/>
<rect x="54" y="7" width="684" height="1.2" fill="#F3F3F3"/>
<rect x="738.5" y="6.8" width="86" height="2" fill="#666"/>
<rect x="737.0" y="1.6" width="3.2" height="10.8" rx="1.4" fill="#666"/>
<rect x="822.5" y="1.6" width="3.2" height="10.8" rx="1.4" fill="#666"/>
<text x="216.4" y="40" font-size="15.8" fill="#252423" text-anchor="start" font-weight="normal" id="t1" textLength="493.8" lengthAdjust="spacing">Number of specimens positive for influenza by subtype and % Positive</text>
<text x="140" y="281.8" font-size="15.8" fill="#252423" text-anchor="start" font-weight="normal" id="t2" textLength="649.1" lengthAdjust="spacing">Number of influenza-like illness (ILI) cases and proportion of ILI cases per 1,000 Outpatients</text>
<text x="89.1" y="503.4" font-size="15.8" fill="#252423" text-anchor="start" font-weight="normal" id="t3" textLength="749.1" lengthAdjust="spacing">Number of severe acute respiratory infection (SARI) cases and proportion of SARI cases per 100 Inpatients</text>
<text x="185" y="241.2" font-size="10" fill="#6E6E6E" text-anchor="middle" font-weight="normal" >juil. 2018</text>
<text x="326.6" y="241.2" font-size="10" fill="#6E6E6E" text-anchor="middle" font-weight="normal" >janv. 2019</text>
<text x="466.6" y="241.2" font-size="10" fill="#6E6E6E" text-anchor="middle" font-weight="normal" >juil. 2019</text>
<text x="608.3" y="241.2" font-size="10" fill="#6E6E6E" text-anchor="middle" font-weight="normal" >janv. 2020</text>
<text x="748.3" y="241.2" font-size="10" fill="#6E6E6E" text-anchor="middle" font-weight="normal" >juil. 2020</text>
<text x="185" y="473.6" font-size="10" fill="#6E6E6E" text-anchor="middle" font-weight="normal" >juil. 2018</text>
<text x="326.6" y="473.6" font-size="10" fill="#6E6E6E" text-anchor="middle" font-weight="normal" >janv. 2019</text>
<text x="466.6" y="473.6" font-size="10" fill="#6E6E6E" text-anchor="middle" font-weight="normal" >juil. 2019</text>
<text x="608.3" y="473.6" font-size="10" fill="#6E6E6E" text-anchor="middle" font-weight="normal" >janv. 2020</text>
<text x="748.3" y="473.6" font-size="10" fill="#6E6E6E" text-anchor="middle" font-weight="normal" >juil. 2020</text>
<text x="185" y="693.6" font-size="10" fill="#6E6E6E" text-anchor="middle" font-weight="normal" >juil. 2018</text>
<text x="326.6" y="693.6" font-size="10" fill="#6E6E6E" text-anchor="middle" font-weight="normal" >janv. 2019</text>
<text x="466.6" y="693.6" font-size="10" fill="#6E6E6E" text-anchor="middle" font-weight="normal" >juil. 2019</text>
<text x="608.3" y="693.6" font-size="10" fill="#6E6E6E" text-anchor="middle" font-weight="normal" >janv. 2020</text>
<text x="748.3" y="693.6" font-size="10" fill="#6E6E6E" text-anchor="middle" font-weight="normal" >juil. 2020</text>
<text x="41.9" y="60" font-size="9.6" fill="#6E6E6E" text-anchor="end" font-weight="normal" >30</text>
<text x="41.9" y="116.9" font-size="9.6" fill="#6E6E6E" text-anchor="end" font-weight="normal" >20</text>
<text x="41.9" y="174" font-size="9.6" fill="#6E6E6E" text-anchor="end" font-weight="normal" >10</text>
<text x="41.9" y="230.7" font-size="9.6" fill="#6E6E6E" text-anchor="end" font-weight="normal" >0</text>
<text x="863.2" y="60.8" font-size="9.8" fill="#6E6E6E" text-anchor="start" font-weight="normal" >40</text>
<text x="863.2" y="102.6" font-size="9.8" fill="#6E6E6E" text-anchor="start" font-weight="normal" >30</text>
<text x="863.2" y="145.6" font-size="9.8" fill="#6E6E6E" text-anchor="start" font-weight="normal" >20</text>
<text x="863.2" y="188.4" font-size="9.8" fill="#6E6E6E" text-anchor="start" font-weight="normal" >10</text>
<text x="863.2" y="231" font-size="9.8" fill="#6E6E6E" text-anchor="start" font-weight="normal" >0</text>
<text x="41.9" y="334" font-size="7.4" fill="#8A8A8A" text-anchor="end" font-weight="normal" >1 000</text>
<text x="41.9" y="399.4" font-size="7.4" fill="#8A8A8A" text-anchor="end" font-weight="normal" >500</text>
<text x="41.9" y="463" font-size="7.4" fill="#8A8A8A" text-anchor="end" font-weight="normal" >0</text>
<text x="863.7" y="339.9" font-size="9.8" fill="#6E6E6E" text-anchor="start" font-weight="normal" >100</text>
<text x="863.7" y="402" font-size="9.8" fill="#6E6E6E" text-anchor="start" font-weight="normal" >50</text>
<text x="42" y="521.9" font-size="7.4" fill="#8A8A8A" text-anchor="end" font-weight="normal" >500</text>
<text x="42" y="554" font-size="7.4" fill="#8A8A8A" text-anchor="end" font-weight="normal" >400</text>
<text x="42" y="585.8" font-size="7.4" fill="#8A8A8A" text-anchor="end" font-weight="normal" >300</text>
<text x="42" y="618.8" font-size="7.4" fill="#8A8A8A" text-anchor="end" font-weight="normal" >200</text>
<text x="42" y="650.6" font-size="7.4" fill="#8A8A8A" text-anchor="end" font-weight="normal" >100</text>
<text x="42" y="682.8" font-size="7.4" fill="#8A8A8A" text-anchor="end" font-weight="normal" >0</text>
<text x="863.7" y="550.2" font-size="9.8" fill="#6E6E6E" text-anchor="start" font-weight="normal" >10</text>
<text x="863.7" y="617.2" font-size="9.8" fill="#6E6E6E" text-anchor="start" font-weight="normal" >5</text>
<text x="863.7" y="684.4" font-size="9.8" fill="#6E6E6E" text-anchor="start" font-weight="normal" >0</text>
<text transform="translate(12.0,142.5) rotate(-90)" font-size="9.5" fill="#6E6E6E" text-anchor="middle" textLength="92.4" lengthAdjust="spacing">Number of Positives</text>
<text transform="translate(12.6,382.7) rotate(-90)" font-size="9.5" fill="#6E6E6E" text-anchor="middle" textLength="80.1" lengthAdjust="spacing">Number of Cases</text>
<text transform="translate(12.4,600) rotate(-90)" font-size="9.5" fill="#6E6E6E" text-anchor="middle" textLength="79.4" lengthAdjust="spacing">Number of Cases</text>
<text x="4" y="719.2" font-size="10.6" fill="#252423" text-anchor="start" font-weight="bold" id="foot" textLength="800" lengthAdjust="spacing">*The denominator for percent influenza positivity is, by availabilty, influenza positives + negatives, then samples processed, and finally samples recieved.</text>
</svg>
</body></html>
